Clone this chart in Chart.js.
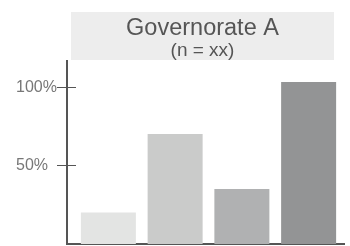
<!DOCTYPE html>
<html>
<head>
<meta charset="utf-8">
<script src="https://cdn.jsdelivr.net/npm/chart.js@4/dist/chart.umd.min.js"></script>
<style>
html,body{margin:0;padding:0;background:#fff;}
#wrap{width:350px;height:246px;position:relative;}
</style>
</head>
<body>
<div id="wrap"><canvas id="c" width="350" height="246"></canvas></div>
<script>
const categories = ["Cat 1", "Cat 2", "Cat 3", "Cat 4"];
const values = [20, 70, 35, 103];
const barColors = ["#e3e4e3", "#cacbca", "#b0b1b2", "#939495"];
const tickValues = [50, 100];
const tickLabels = ["50%", "100%"];
const titleText = "Governorate A";
const subtitleText = "(n = xx)";

const FONT = "'Liberation Sans', Arial, sans-serif";

const decor = {
  id: 'decor',
  beforeDraw(chart) {
    const ctx = chart.ctx;
    ctx.save();
    ctx.fillStyle = '#ededed';
    ctx.fillRect(71, 12, 263, 48);
    ctx.fillStyle = '#555';
    ctx.textAlign = 'center';
    ctx.textBaseline = 'alphabetic';
    ctx.font = '23.5px ' + FONT;
    ctx.fillText(titleText, 202.5, 35);
    ctx.font = '19px ' + FONT;
    ctx.fillText(subtitleText, 202.5, 56);
    ctx.restore();
  },
  beforeDatasetsDraw(chart) {
    const ctx = chart.ctx;
    const y = chart.scales.y;
    const area = chart.chartArea;
    const axisX = 67;
    ctx.save();
    ctx.strokeStyle = '#555';
    ctx.lineWidth = 2;
    ctx.beginPath();
    ctx.moveTo(axisX, 60);
    ctx.lineTo(axisX, area.bottom + 1);
    ctx.moveTo(axisX - 1, area.bottom);
    ctx.lineTo(345, area.bottom);
    ctx.stroke();
    ctx.lineWidth = 1;
    ctx.font = '16px ' + FONT;
    ctx.fillStyle = '#777';
    ctx.textAlign = 'left';
    ctx.textBaseline = 'middle';
    tickValues.forEach((v, i) => {
      const py = Math.round(y.getPixelForValue(v)) + 0.5;
      ctx.beginPath();
      ctx.moveTo(57, py);
      ctx.lineTo(76, py);
      ctx.stroke();
      ctx.fillText(tickLabels[i], 16, py);
    });
    ctx.restore();
  }
};

new Chart(document.getElementById('c'), {
  type: 'bar',
  data: {
    labels: categories,
    datasets: [{
      data: values,
      backgroundColor: barColors,
      borderWidth: 0,
      barPercentage: 0.824,
      categoryPercentage: 1
    }]
  },
  options: {
    responsive: false,
    animation: false,
    layout: { padding: { left: 75, right: 8, top: 60, bottom: 2 } },
    plugins: { legend: { display: false }, tooltip: { enabled: false }, title: { display: false } },
    scales: {
      x: { display: false },
      y: { display: false, min: 0, max: 117 }
    }
  },
  plugins: [decor]
});
</script>
</body>
</html>
